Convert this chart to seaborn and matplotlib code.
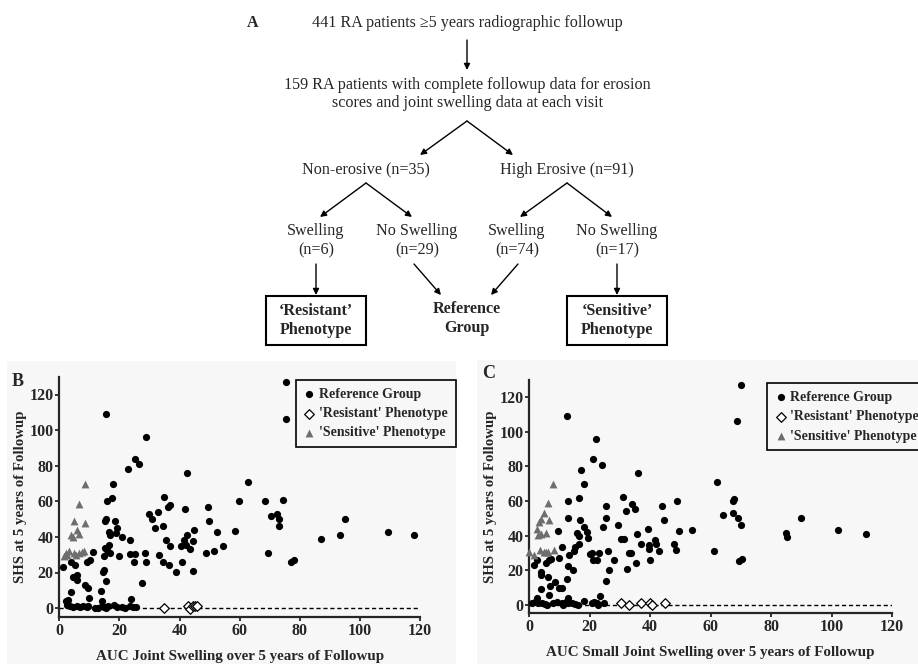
import numpy as np
import pandas as pd
import matplotlib
matplotlib.use("Agg")
import matplotlib.pyplot as plt
from matplotlib.patches import Rectangle
import seaborn as sns

# ---- data ----
groups = ["Reference Group", "'Resistant' Phenotype", "'Sensitive' Phenotype"]

b_ref_x = [15.4, 28.7, 25.3, 26.4, 22.8, 42.4, 17.9, 17.4, 15.9, 34.8, 29.9, 32.9, 30.9, 36.0, 36.9,
           31.9, 34.4, 41.9, 15.1, 15.5, 18.4, 19.3, 16.4, 17.0, 18.8, 20.8, 23.5, 16.4, 15.3, 15.9,
           16.9, 14.9, 19.8, 23.5, 25.3, 24.8, 28.4, 28.8, 35.4, 36.8, 33.3, 34.4, 36.4, 38.8, 40.4,
           41.4, 42.5, 42.0, 43.5, 44.5, 44.9, 44.4, 40.8, 27.4, 11.3, 10.2, 9.1, 3.8, 1.3, 5.2,
           4.5, 5.7, 6.0, 5.8, 8.4, 9.7, 14.9, 14.4, 15.5, 13.9, 3.9, 9.8, 2.8, 2.1, 14.2, 23.8,
           75.4, 75.4, 62.9, 59.9, 68.4, 74.4, 49.5, 49.9, 52.3, 58.3, 70.4, 72.5, 73.0, 73.0, 69.4,
           77.1, 78.0, 86.9, 93.5, 94.9, 109.5, 118.0, 48.8, 51.5, 54.3,
           2.5, 3.6, 4.7, 5.8, 6.9, 8.0, 9.1, 9.6, 11.9, 13.0, 14.1, 15.0, 15.7, 16.3, 18.3, 19.1,
           20.7, 21.7, 23.4, 24.5, 25.6]
b_ref_y = [109, 96, 84, 81, 78, 76, 70, 62, 60, 62.4, 53, 54, 50, 57, 58,
           45, 46, 55.5, 49, 50, 49, 45, 43, 41, 42, 40, 38.4, 35.3, 33.6, 32.6,
           31.1, 29, 29, 30.2, 30.2, 26.1, 31.1, 26.1, 38.1, 35.1, 30, 25.9, 24.4, 20.1, 35.1,
           38.1, 41.1, 35.3, 33.2, 37.9, 43.9, 21, 25.9, 14.1, 31.3, 26.8, 26.1, 25.9, 22.9, 24,
           17.3, 17.4, 15.9, 18.75, 13.1, 11.1, 21.4, 20.1, 15, 9.75, 9, 5.8, 4.7, 4.1, 4.1, 5.1,
           127, 106, 71, 60, 60, 61, 57, 49, 42.6, 43.5, 52, 53, 50, 46, 31,
           25.7, 26.8, 39, 41, 50, 43, 41, 31, 32, 35,
           1.5, 1, 0.5, 1, 0.5, 1, 0.5, 1, 0, 0, 1, 0.5, 0, 1, 1.5, 0.5,
           0.5, 0, 1, 0.5, 0.5]
b_res_x = [34.8, 42.9, 43.6, 44.4, 45.1, 45.7]
b_res_y = [0, 1, -0.3, 1, 1, 1]
b_sen_x = [8.5, 6.4, 4.9, 8.4, 6.0, 6.4, 3.9, 4.4, 1.7, 2.3, 3.1, 4.9, 5.7, 6.7, 7.7, 8.2, 2.4]
b_sen_y = [70, 58.7, 49.1, 47.8, 43.9, 41.8, 40.9, 39.9, 29, 31, 32, 31, 30, 31, 31.7, 32, 30]

c_ref_x = [12.6, 22, 21.05, 24, 17.1, 36, 18.1, 16.5, 13, 31, 32.1, 33.9, 35, 25.5, 44.1,
           44.7, 13, 17, 18.1, 16, 16.6, 19.1, 19.6, 16.5, 15.1, 14.9, 13.1, 11, 9.6, 10,
           12.8, 12.6, 14.5, 24.6, 25.6, 20, 20.7, 23, 21.3, 22.6, 26, 26.6, 25.5, 28, 29.5,
           30.3, 31.4, 32.5, 33, 33.7, 35.5, 35.7, 37.1, 39.5, 39.8, 39.8, 40.1, 41.5, 42.1, 43,
           23.5, 1.65, 2.75, 5.6, 6.6, 7.3, 4, 4.1, 6.2, 6.9, 4.1, 8.5, 10, 10.8, 6.6, 2.6, 12.8,
           70, 68.6, 62, 49, 49.6, 54, 47.9, 48.5, 61.1, 64, 67.5, 67.9, 67.5, 69.1, 70,
           69.4, 70.4, 85, 85.4, 90, 102.1, 111.5,
           1.1, 2, 3.1, 4.2, 5.3, 5.8, 8, 9.1, 10.8, 11.4, 11.9, 12.5, 13, 14.1, 15.2, 16.3,
           18.2, 20.7, 21.6, 22.4, 22.9, 24.9]
c_ref_y = [109.2, 96, 84.3, 80.9, 78, 76, 69.9, 61.9, 60, 62.3, 54, 58.1, 55.5, 56.9, 56.9,
           49, 50.1, 49, 45.1, 41.2, 40, 41.8, 38.3, 35, 33.1, 31.2, 29, 33.1, 42.8, 27.1,
           22.4, 14.9, 19.9, 45.1, 49.9, 29.6, 30, 30, 26.1, 26.1, 31, 19.9, 13.9, 26.1, 45.9,
           37.9, 37.9, 20.9, 30, 30, 24.2, 40.8, 35, 43.9, 34.4, 32.3, 26.1, 37.7, 35.2, 31,
           4.8, 23, 26.1, 24.2, 25.7, 26.5, 18.8, 17, 15.9, 11, 8.9, 13.4, 9.9, 9.9, 5.8, 4.1, 3.9,
           127, 106, 71, 60, 42.6, 43.4, 35, 31.9, 31, 52, 60.2, 61, 52.8, 49.9, 46,
           25.5, 26.7, 41.2, 39.3, 49.9, 43, 41,
           1, 1.5, 1, 1, 0.5, 0, 1, 1.5, 1, 0, 1, 2, 1, 1, 0.5, 0,
           2, 1, 1.5, 1, 0, 1]
c_res_x = [30.4, 33, 36.9, 40, 40.7, 45]
c_res_y = [1, 0, 1, 1, -0.4, 1]
c_sen_x = [8, 6.4, 5, 3.9, 3.4, 6.6, 2.5, 5.5, 2.9, 4.1, 0, 1.8, 3.6, 5.1, 5.7, 6.4, 8.2]
c_sen_y = [69.7, 58.8, 52.8, 49.5, 48, 48.8, 43.7, 41.6, 40.4, 40.8, 30.2, 29, 31.4, 30.4, 30.4, 30.4, 31.5]

ticks = [0, 20, 40, 60, 80, 100, 120]
b_xlabel = "AUC Joint Swelling over 5 years of Followup"
c_xlabel = "AUC Small Joint Swelling over 5 years of Followup"
ylabel = "SHS at 5 years of Followup"

sns.set_style("ticks")
plt.rcParams["font.family"] = ["Liberation Serif", "DejaVu Serif"]

W, H = 918, 664
fig = plt.figure(figsize=(W / 100, H / 100), dpi=100)

# full-figure canvas in pixel coordinates for the flowchart and panel backgrounds
bg = fig.add_axes([0, 0, 1, 1])
bg.set_xlim(0, W)
bg.set_ylim(H, 0)
bg.axis("off")
bg.add_patch(Rectangle((7, 361), 449, 303, facecolor="#f7f7f7", edgecolor="none"))
bg.add_patch(Rectangle((477, 360), 441, 304, facecolor="#f7f7f7", edgecolor="none"))

fs = 11.6
bg.text(253, 23, "A", fontsize=11.5, fontweight="bold", ha="center", va="center")
bg.text(467, 23, "441 RA patients \u22655 years radiographic followup", fontsize=fs, ha="center", va="center")
bg.text(467, 85, "159 RA patients with complete followup data for erosion", fontsize=fs, ha="center", va="center")
bg.text(467, 103, "scores and joint swelling data at each visit", fontsize=fs, ha="center", va="center")
bg.text(366, 170, "Non-erosive (n=35)", fontsize=fs, ha="center", va="center")
bg.text(567, 170, "High Erosive (n=91)", fontsize=fs, ha="center", va="center")
for cx, lbl in [(316, "(n=6)"), (417, "(n=29)"), (517, "(n=74)"), (617, "(n=17)")]:
    bg.text(cx, 250, lbl, fontsize=fs, ha="center", va="center")
for cx, lbl in [(316, "Swelling"), (417, "No Swelling"), (517, "Swelling"), (617, "No Swelling")]:
    bg.text(cx, 231, lbl, fontsize=fs, ha="center", va="center")

bg.text(316, 311, "\u2018Resistant\u2019", fontsize=fs, fontweight="bold", ha="center", va="center")
bg.text(316, 330, "Phenotype", fontsize=fs, fontweight="bold", ha="center", va="center")
bg.text(467, 309, "Reference", fontsize=fs, fontweight="bold", ha="center", va="center")
bg.text(467, 328, "Group", fontsize=fs, fontweight="bold", ha="center", va="center")
bg.text(617, 311, "\u2018Sensitive\u2019", fontsize=fs, fontweight="bold", ha="center", va="center")
bg.text(617, 330, "Phenotype", fontsize=fs, fontweight="bold", ha="center", va="center")
bg.add_patch(Rectangle((265.5, 295.5), 100.5, 49, fill=False, edgecolor="black", lw=1.5))
bg.add_patch(Rectangle((566.5, 295.5), 100.5, 49, fill=False, edgecolor="black", lw=1.5))

arrows = [((467, 40), (467, 70)),
          ((467, 121), (420, 155)), ((467, 121), (513, 155)),
          ((366, 183), (320, 217)), ((366, 183), (412, 217)),
          ((567, 183), (520, 217)), ((567, 183), (612, 217)),
          ((316, 264), (316, 295)), ((414, 264), (441, 295)),
          ((518, 264), (491, 295)), ((617, 264), (617, 295))]
for (x0, y0), (x1, y1) in arrows:
    bg.annotate("", xy=(x1, y1), xytext=(x0, y0),
                arrowprops=dict(arrowstyle="-|>", color="black", lw=1.0,
                                mutation_scale=9, shrinkA=0, shrinkB=0))


def panel(rect, rx, ry, resx, resy, senx, seny, xlabel, letter, letter_xy):
    ax = fig.add_axes(rect)
    ax.set_facecolor("none")
    sns.scatterplot(x=rx, y=ry, ax=ax, color="black", marker="o", s=27,
                    linewidth=0, label=groups[0], clip_on=False, zorder=3)
    sns.scatterplot(x=resx, y=resy, ax=ax, marker="D", s=24, facecolor="white",
                    edgecolor="black", linewidth=0.9, label=groups[1], clip_on=False, zorder=4)
    sns.scatterplot(x=senx, y=seny, ax=ax, color="#6e6e6e", marker="^", s=32,
                    linewidth=0, label=groups[2], clip_on=False, zorder=3)
    ax.plot([0, 120], [0, 0], ls=(0, (3, 2)), color="black", lw=1.0, zorder=2)
    ax.set_xlim(0, 120)
    ax.set_ylim(-5, 130)
    ax.set_xticks(ticks)
    ax.set_yticks(ticks)
    sns.despine(ax=ax)
    for sp in ("left", "bottom"):
        ax.spines[sp].set_linewidth(1.6)
    ax.tick_params(width=1.3, length=3, labelsize=11.5, pad=1)
    for t in ax.get_xticklabels() + ax.get_yticklabels():
        t.set_fontweight("bold")
    ax.set_xlabel(xlabel, fontsize=10.8, fontweight="bold", labelpad=8)
    ax.set_ylabel(ylabel, fontsize=10.7, fontweight="bold", labelpad=2)
    leg = ax.legend(loc="upper left", bbox_to_anchor=(0.657, 0.985), frameon=True,
                    fancybox=False, edgecolor="black", framealpha=1, facecolor="#f7f7f7",
                    prop={"weight": "bold", "size": 10}, handlelength=0.8,
                    handletextpad=0.3, borderpad=0.55, labelspacing=0.45, borderaxespad=0)
    leg.get_frame().set_linewidth(1.2)
    leg.set_clip_on(False)
    fig.text(letter_xy[0] / W, 1 - letter_xy[1] / H, letter, fontsize=13,
             fontweight="bold", ha="center", va="center")
    return ax


panel([59.3 / W, 47 / H, 360.7 / W, 240.3 / H], b_ref_x, b_ref_y, b_res_x, b_res_y,
      b_sen_x, b_sen_y, b_xlabel, "B", (18, 381))
panel([529 / W, 50.7 / H, 363 / W, 233.3 / H], c_ref_x, c_ref_y, c_res_x, c_res_y,
      c_sen_x, c_sen_y, c_xlabel, "C", (489, 374))

fig.savefig("out.png", dpi=100)
